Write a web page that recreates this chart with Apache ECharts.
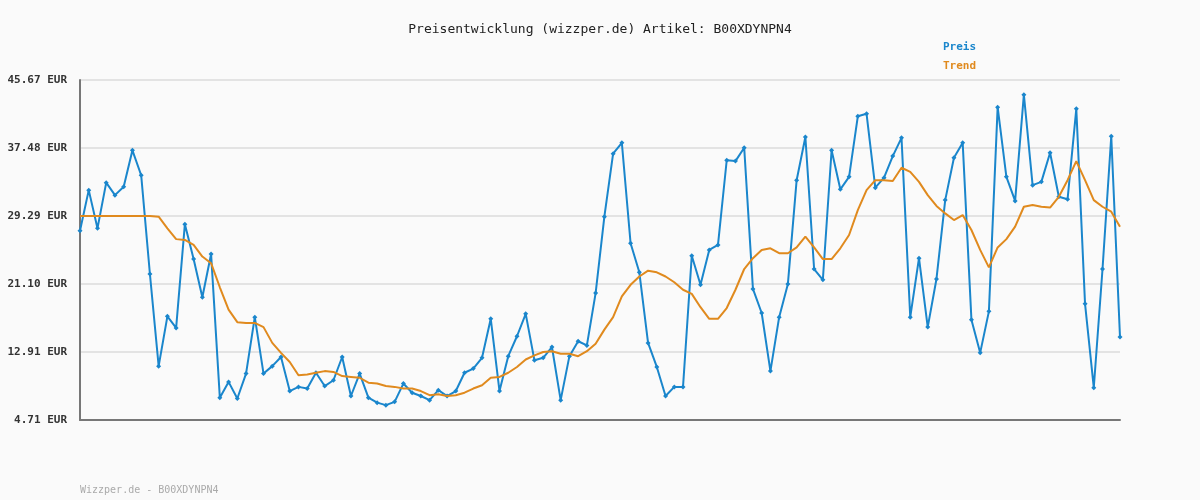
<!DOCTYPE html>
<html><head><meta charset="utf-8">
<script src="https://cdn.jsdelivr.net/npm/echarts@6/dist/echarts.min.js"></script>
<style>html,body{margin:0;background:#fafafa}#c{width:1200px;height:500px}</style>
</head><body><div id="c"></div>
<script>
const preis = [27.5,32.4,27.8,33.3,31.8,32.8,37.2,34.2,22.3,11.2,
17.2,15.8,28.3,24.1,19.5,24.7,7.4,9.3,7.3,10.3,
17.1,10.3,11.2,12.3,8.2,8.7,8.5,10.4,8.8,9.5,
12.3,7.6,10.3,7.4,6.8,6.5,6.9,9.1,8.0,7.6,
7.1,8.3,7.6,8.2,10.4,10.9,12.2,16.9,8.2,12.4,
14.8,17.5,11.9,12.2,13.5,7.1,12.4,14.2,13.7,20.0,
29.2,36.8,38.1,26.0,22.5,14.0,11.1,7.6,8.7,8.7,
24.5,21.0,25.2,25.8,36.0,35.9,37.5,20.5,17.6,10.6,
17.1,21.1,33.6,38.8,22.9,21.6,37.2,32.5,34.0,41.3,
41.6,32.7,33.9,36.5,38.7,17.1,24.2,15.9,21.7,31.2,
36.3,38.1,16.8,12.8,17.8,42.4,34.0,31.1,43.9,33.0,
33.4,36.9,31.6,31.3,42.2,18.7,8.6,22.9,38.9,14.7];
const trend = [29.29,29.29,29.29,29.29,29.29,29.29,29.29,29.29,29.29,29.2,
27.8,26.5,26.4,25.8,24.4,23.6,20.7,18.0,16.5,16.4,
16.4,15.9,14.0,12.8,11.7,10.1,10.2,10.4,10.6,10.5,
10.0,9.9,9.8,9.2,9.1,8.8,8.7,8.5,8.5,8.2,
7.7,7.8,7.6,7.7,8.0,8.5,8.9,9.8,9.9,10.4,
11.1,12.0,12.5,12.9,13.0,12.7,12.7,12.4,13.0,13.9,
15.6,17.1,19.6,21.0,22.0,22.7,22.5,22.0,21.3,20.4,
19.9,18.3,16.9,16.9,18.2,20.4,22.9,24.2,25.2,25.4,
24.8,24.8,25.5,26.8,25.5,24.1,24.1,25.4,27.0,30.0,
32.4,33.6,33.6,33.5,35.1,34.6,33.4,31.8,30.5,29.6,
28.8,29.4,27.6,25.2,23.1,25.5,26.5,28.0,30.4,30.6,
30.4,30.3,31.6,33.6,35.9,33.6,31.2,30.4,29.8,28.0];
const categories = preis.map((_, i) => String(i + 1));
const tickLabels = ['4.71 EUR','12.91 EUR','21.10 EUR','29.29 EUR','37.48 EUR','45.67 EUR'];
const yMin = 4.71, yMax = 45.67;
const title = 'Preisentwicklung (wizzper.de) Artikel: B00XDYNPN4';
const footer = 'Wizzper.de - B00XDYNPN4';
const mono = 'DejaVu Sans Mono';
const chart = echarts.init(document.getElementById('c'));
chart.setOption({
  backgroundColor: '#fafafa',
  animation: false,
  title: [{text: title, left: 'center', top: 18, textStyle: {fontFamily: mono, fontSize: 13, fontWeight: 'normal', color: '#222'}},
          {text: footer, left: 75, top: 480, textStyle: {fontFamily: mono, fontSize: 10, fontWeight: 'normal', color: '#aaa'}}],
  legend: {orient: 'vertical', left: 933, top: 35, itemGap: 7, icon: 'none', itemWidth: 0,
    textStyle: {fontFamily: mono, fontSize: 11, fontWeight: 'bold'},
    data: [{name: 'Preis', textStyle: {color: '#1a86cc'}}, {name: 'Trend', textStyle: {color: '#e08a1e'}}]},
  grid: {left: 80, right: 80, top: 80, bottom: 80},
  xAxis: {type: 'category', data: categories, boundaryGap: false,
    axisLine: {lineStyle: {color: '#777', width: 2}}, axisTick: {show: false}, axisLabel: {show: false}},
  yAxis: {type: 'value', min: yMin, max: yMax, interval: (yMax - yMin) / 5,
    axisLine: {show: true, lineStyle: {color: '#777', width: 2}}, axisTick: {show: false},
    splitLine: {lineStyle: {color: '#e3e3e3', width: 2}},
    axisLabel: {fontFamily: mono, fontSize: 11, fontWeight: 'bold', color: '#333', margin: 13,
      formatter: (v, i) => tickLabels[i] !== undefined ? tickLabels[i] : v.toFixed(2) + ' EUR'}},
  series: [
    {name: 'Preis', type: 'line', data: preis, symbol: 'diamond', symbolSize: 5, showAllSymbol: true,
     itemStyle: {color: '#1a86cc'}, lineStyle: {color: '#1a86cc', width: 2}, z: 2},
    {name: 'Trend', type: 'line', data: trend, symbol: 'none',
     itemStyle: {color: '#e08a1e'}, lineStyle: {color: '#e08a1e', width: 2}, z: 3}
  ]
});
</script></body></html>
